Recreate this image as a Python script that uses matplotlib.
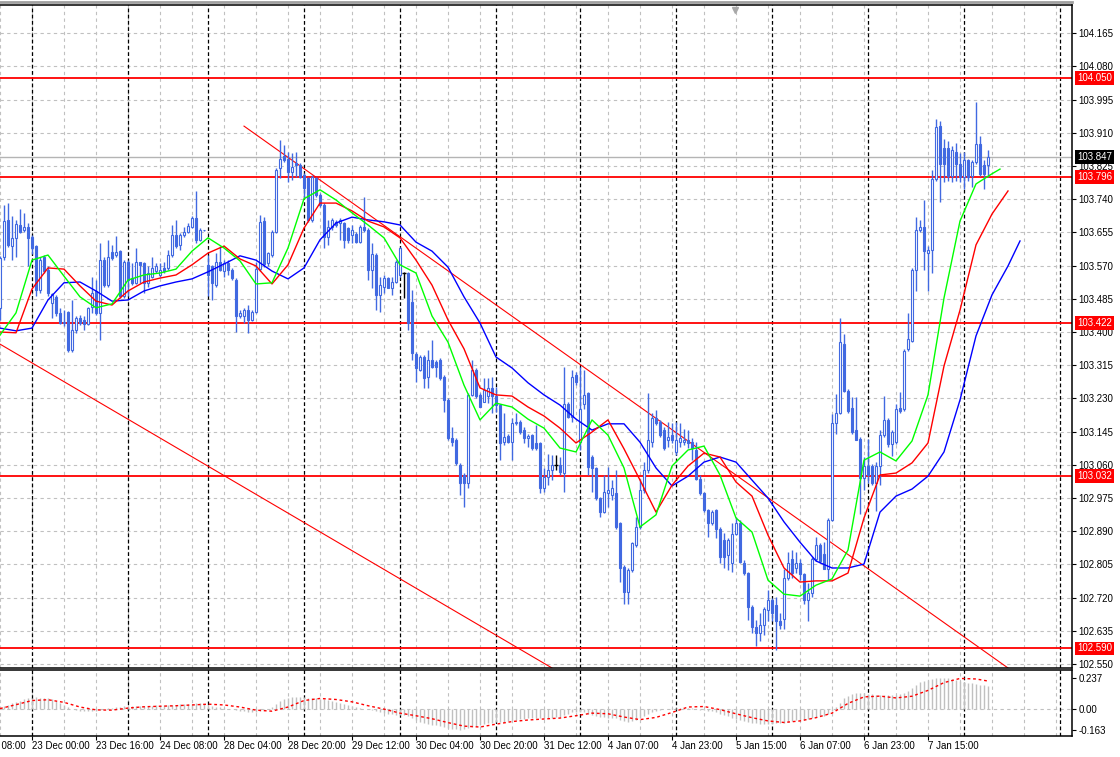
import numpy as np
import matplotlib
matplotlib.use("Agg")
import matplotlib.pyplot as plt
from matplotlib.lines import Line2D

plt.rcParams['font.family'] = ['Liberation Sans', 'DejaVu Sans']

# hourly candles, bar 0 = 22 Dec 16:00, bar 8 = 23 Dec 00:00
opens = [
    103.461, 103.593, 103.687, 103.621, 103.640, 103.674, 103.660, 103.668,
    103.644, 103.619, 103.508, 103.592, 103.559, 103.474, 103.490, 103.448,
    103.423, 103.452, 103.354, 103.405, 103.435, 103.431, 103.421, 103.465,
    103.504, 103.448, 103.585, 103.521, 103.606, 103.598, 103.608, 103.491,
    103.580, 103.538, 103.525, 103.578, 103.576, 103.525, 103.542, 103.555,
    103.546, 103.563, 103.563, 103.598, 103.649, 103.623, 103.649, 103.657,
    103.670, 103.691, 103.636, 103.661, 103.572, 103.568, 103.521, 103.580,
    103.555, 103.576, 103.559, 103.534, 103.440, 103.440, 103.457, 103.431,
    103.452, 103.560, 103.685, 103.576, 103.597, 103.657, 103.819, 103.850,
    103.844, 103.810, 103.832, 103.827, 103.802, 103.793, 103.687, 103.793,
    103.751, 103.725, 103.644, 103.670, 103.682, 103.678, 103.678, 103.665,
    103.648, 103.651, 103.631, 103.670, 103.661, 103.559, 103.597, 103.495,
    103.516, 103.537, 103.512, 103.529, 103.546, 103.550, 103.550, 103.478,
    103.344, 103.303, 103.335, 103.286, 103.328, 103.324, 103.328, 103.286,
    103.226, 103.128, 103.124, 103.060, 103.034, 103.013, 103.239, 103.303,
    103.239, 103.222, 103.235, 103.256, 103.235, 103.213, 103.119, 103.134,
    103.119, 103.166, 103.170, 103.149, 103.128, 103.136, 103.115, 103.115,
    103.000, 103.029, 103.046, 103.059, 103.059, 103.038, 103.217, 103.183,
    103.290, 103.119, 103.217, 103.243, 103.081, 103.051, 102.974, 102.940,
    102.987, 102.983, 102.987, 102.910, 102.799, 102.735, 102.791, 102.855,
    102.902, 102.995, 103.046, 103.119, 103.179, 103.170, 103.149, 103.123,
    103.136, 103.093, 103.119, 103.119, 103.123, 103.119, 103.098, 103.025,
    102.987, 102.944, 102.910, 102.944, 102.897, 102.867, 102.829, 102.808,
    102.884, 102.910, 102.808, 102.782, 102.697, 102.646, 102.630, 102.650,
    102.688, 102.715, 102.700, 102.661, 102.665, 102.771, 102.819, 102.797,
    102.810, 102.780, 102.714, 102.731, 102.819, 102.854, 102.832, 102.793,
    102.920, 103.167, 103.193, 103.369, 103.250, 103.206, 103.149, 103.127,
    103.026, 103.057, 103.057, 103.013, 103.057, 103.136, 103.176, 103.114,
    103.118, 103.206, 103.202, 103.356, 103.378, 103.558, 103.660, 103.668,
    103.602, 103.611, 103.792, 103.928, 103.871, 103.871, 103.800, 103.862,
    103.831, 103.796, 103.840, 103.800, 103.836, 103.880, 103.827, 103.827,
]
highs = [
    103.595, 103.725, 103.730, 103.696, 103.687, 103.714, 103.704, 103.679,
    103.648, 103.623, 103.593, 103.598, 103.568, 103.499, 103.495, 103.461,
    103.457, 103.455, 103.482, 103.440, 103.444, 103.440, 103.465, 103.542,
    103.534, 103.627, 103.593, 103.636, 103.623, 103.645, 103.610, 103.585,
    103.585, 103.576, 103.615, 103.580, 103.580, 103.568, 103.593, 103.576,
    103.576, 103.580, 103.610, 103.674, 103.687, 103.653, 103.670, 103.679,
    103.696, 103.760, 103.666, 103.662, 103.598, 103.572, 103.602, 103.619,
    103.585, 103.585, 103.563, 103.538, 103.457, 103.461, 103.470, 103.457,
    103.578, 103.700, 103.695, 103.605, 103.661, 103.819, 103.891, 103.879,
    103.862, 103.857, 103.862, 103.832, 103.806, 103.797, 103.802, 103.797,
    103.755, 103.729, 103.687, 103.691, 103.687, 103.691, 103.682, 103.670,
    103.674, 103.657, 103.674, 103.746, 103.665, 103.627, 103.601, 103.542,
    103.546, 103.542, 103.542, 103.584, 103.618, 103.554, 103.554, 103.507,
    103.350, 103.341, 103.341, 103.354, 103.380, 103.328, 103.333, 103.290,
    103.230, 103.158, 103.128, 103.064, 103.038, 103.243, 103.328, 103.307,
    103.243, 103.282, 103.282, 103.286, 103.260, 103.217, 103.192, 103.140,
    103.179, 103.192, 103.174, 103.157, 103.140, 103.140, 103.162, 103.119,
    103.051, 103.089, 103.085, 103.085, 103.081, 103.311, 103.221, 103.302,
    103.298, 103.311, 103.302, 103.247, 103.085, 103.055, 102.978, 103.034,
    103.055, 103.021, 103.046, 102.914, 102.803, 102.795, 102.863, 102.927,
    103.025, 103.068, 103.243, 103.192, 103.200, 103.174, 103.157, 103.170,
    103.166, 103.170, 103.166, 103.153, 103.149, 103.128, 103.119, 103.034,
    102.991, 102.948, 102.944, 102.948, 102.902, 102.885, 102.872, 102.910,
    102.927, 102.919, 102.816, 102.786, 102.701, 102.663, 102.680, 102.695,
    102.740, 102.720, 102.722, 102.680, 102.793, 102.837, 102.841, 102.837,
    102.819, 102.784, 102.758, 102.823, 102.876, 102.859, 102.863, 102.925,
    103.189, 103.242, 103.435, 103.396, 103.255, 103.233, 103.233, 103.132,
    103.079, 103.127, 103.061, 103.066, 103.149, 103.237, 103.180, 103.149,
    103.215, 103.246, 103.356, 103.448, 103.563, 103.695, 103.686, 103.739,
    103.620, 103.814, 103.946, 103.941, 103.893, 103.888, 103.875, 103.884,
    103.858, 103.862, 103.844, 103.840, 103.990, 103.902, 103.840, 103.866,
]
lows = [
    103.431, 103.585, 103.617, 103.585, 103.593, 103.653, 103.657, 103.568,
    103.600, 103.491, 103.499, 103.551, 103.491, 103.435, 103.440, 103.421,
    103.416, 103.350, 103.348, 103.397, 103.418, 103.406, 103.418, 103.448,
    103.444, 103.380, 103.516, 103.516, 103.585, 103.593, 103.487, 103.487,
    103.491, 103.521, 103.523, 103.525, 103.499, 103.516, 103.538, 103.551,
    103.542, 103.551, 103.559, 103.593, 103.615, 103.610, 103.644, 103.653,
    103.666, 103.627, 103.632, 103.658, 103.491, 103.482, 103.516, 103.555,
    103.542, 103.546, 103.534, 103.401, 103.435, 103.423, 103.397, 103.427,
    103.448, 103.555, 103.567, 103.570, 103.593, 103.653, 103.793, 103.836,
    103.785, 103.789, 103.798, 103.793, 103.742, 103.682, 103.682, 103.746,
    103.721, 103.614, 103.623, 103.661, 103.670, 103.636, 103.614, 103.627,
    103.627, 103.627, 103.627, 103.657, 103.533, 103.512, 103.456, 103.452,
    103.499, 103.512, 103.495, 103.525, 103.542, 103.486, 103.405, 103.328,
    103.273, 103.299, 103.256, 103.256, 103.307, 103.286, 103.277, 103.196,
    103.124, 103.107, 103.060, 102.983, 102.953, 103.000, 103.235, 103.230,
    103.209, 103.222, 103.218, 103.192, 103.196, 103.072, 103.111, 103.115,
    103.072, 103.162, 103.140, 103.115, 103.106, 103.098, 103.098, 102.987,
    102.991, 103.008, 103.021, 103.046, 103.034, 102.991, 103.179, 103.170,
    103.264, 103.098, 103.204, 103.034, 102.991, 102.970, 102.927, 102.936,
    102.953, 102.970, 102.897, 102.761, 102.705, 102.705, 102.786, 102.850,
    102.897, 102.987, 103.038, 103.106, 103.162, 103.132, 103.098, 103.106,
    103.115, 103.085, 103.106, 103.111, 103.102, 103.072, 103.021, 102.983,
    102.940, 102.876, 102.906, 102.872, 102.808, 102.795, 102.791, 102.786,
    102.880, 102.808, 102.778, 102.663, 102.630, 102.596, 102.610, 102.625,
    102.660, 102.660, 102.585, 102.640, 102.640, 102.766, 102.771, 102.784,
    102.766, 102.705, 102.661, 102.722, 102.815, 102.810, 102.793, 102.766,
    102.916, 103.140, 103.189, 103.246, 103.193, 103.140, 103.123, 102.934,
    102.996, 103.013, 103.009, 102.943, 103.009, 103.132, 103.105, 103.083,
    103.114, 103.193, 103.198, 103.352, 103.374, 103.506, 103.655, 103.558,
    103.506, 103.550, 103.787, 103.734, 103.783, 103.787, 103.783, 103.787,
    103.783, 103.765, 103.787, 103.770, 103.831, 103.800, 103.765, 103.796,
]
closes = [
    103.589, 103.683, 103.623, 103.640, 103.677, 103.657, 103.668, 103.640,
    103.616, 103.508, 103.585, 103.555, 103.499, 103.498, 103.448, 103.423,
    103.425, 103.354, 103.405, 103.435, 103.423, 103.421, 103.461, 103.499,
    103.448, 103.585, 103.521, 103.593, 103.589, 103.606, 103.491, 103.580,
    103.534, 103.525, 103.578, 103.572, 103.525, 103.551, 103.563, 103.570,
    103.559, 103.555, 103.598, 103.649, 103.619, 103.649, 103.657, 103.672,
    103.691, 103.636, 103.661, 103.660, 103.546, 103.525, 103.580, 103.559,
    103.576, 103.559, 103.538, 103.440, 103.448, 103.457, 103.431, 103.452,
    103.560, 103.682, 103.575, 103.601, 103.657, 103.815, 103.844, 103.840,
    103.810, 103.823, 103.827, 103.798, 103.768, 103.687, 103.798, 103.751,
    103.725, 103.644, 103.670, 103.687, 103.674, 103.687, 103.636, 103.636,
    103.661, 103.631, 103.670, 103.661, 103.559, 103.600, 103.495, 103.520,
    103.537, 103.512, 103.529, 103.580, 103.614, 103.550, 103.422, 103.345,
    103.307, 103.337, 103.282, 103.328, 103.311, 103.310, 103.282, 103.226,
    103.128, 103.119, 103.064, 103.013, 103.013, 103.239, 103.303, 103.235,
    103.209, 103.252, 103.256, 103.235, 103.213, 103.115, 103.132, 103.119,
    103.166, 103.170, 103.145, 103.128, 103.134, 103.102, 103.102, 103.000,
    103.029, 103.046, 103.059, 103.059, 103.042, 103.217, 103.183, 103.285,
    103.273, 103.204, 103.238, 103.055, 103.051, 102.974, 102.940, 102.991,
    102.995, 103.000, 102.902, 102.795, 102.735, 102.791, 102.859, 102.902,
    102.995, 103.046, 103.123, 103.179, 103.166, 103.136, 103.102, 103.132,
    103.123, 103.123, 103.128, 103.123, 103.115, 103.102, 103.025, 102.987,
    102.944, 102.910, 102.940, 102.897, 102.825, 102.825, 102.867, 102.884,
    102.910, 102.812, 102.782, 102.697, 102.646, 102.630, 102.650, 102.690,
    102.715, 102.680, 102.661, 102.650, 102.771, 102.810, 102.784, 102.810,
    102.780, 102.714, 102.731, 102.819, 102.854, 102.815, 102.793, 102.920,
    103.167, 103.193, 103.374, 103.250, 103.198, 103.145, 103.123, 103.026,
    103.057, 103.035, 103.013, 103.057, 103.136, 103.176, 103.114, 103.145,
    103.202, 103.199, 103.352, 103.382, 103.558, 103.660, 103.668, 103.607,
    103.611, 103.792, 103.924, 103.831, 103.831, 103.800, 103.866, 103.831,
    103.796, 103.840, 103.796, 103.836, 103.880, 103.805, 103.805, 103.847,
]

# alligator lines, read every 4 bars (last value at the line's end bar)
lips_vals = [
    103.392, 103.449, 103.584, 103.597, 103.543, 103.490, 103.462, 103.472,
    103.533, 103.546, 103.551, 103.561, 103.607, 103.641, 103.615, 103.582,
    103.523, 103.526, 103.615, 103.741, 103.764, 103.738, 103.705, 103.674,
    103.641, 103.572, 103.551, 103.441, 103.374, 103.264, 103.175, 103.218,
    103.208, 103.177, 103.154, 103.103, 103.093, 103.175, 103.136, 103.052,
    102.901, 102.932, 103.057, 103.098, 103.108, 103.034, 102.924, 102.888,
    102.765, 102.729, 102.724, 102.752, 102.768, 102.842, 103.072, 103.093,
    103.070, 103.121, 103.239, 103.487, 103.684, 103.779, 103.805, 103.817,
]
teeth_vals = [
    103.400, 103.398, 103.510, 103.564, 103.561, 103.518, 103.479, 103.469,
    103.505, 103.528, 103.538, 103.546, 103.572, 103.602, 103.620, 103.587,
    103.569, 103.523, 103.572, 103.666, 103.730, 103.730, 103.710, 103.684,
    103.669, 103.641, 103.584, 103.520, 103.431, 103.357, 103.257, 103.239,
    103.236, 103.208, 103.185, 103.154, 103.116, 103.144, 103.175, 103.101,
    103.021, 102.939, 103.008, 103.057, 103.090, 103.080, 103.016, 102.980,
    102.880, 102.796, 102.760, 102.763, 102.763, 102.783, 102.924, 103.034,
    103.039, 103.065, 103.116, 103.313, 103.456, 103.623, 103.702, 103.761,
]
jaw_vals = [
    103.410, 103.403, 103.410, 103.482, 103.526, 103.528, 103.505, 103.479,
    103.482, 103.505, 103.518, 103.528, 103.536, 103.554, 103.574, 103.595,
    103.584, 103.556, 103.536, 103.564, 103.636, 103.679, 103.694, 103.687,
    103.682, 103.674, 103.630, 103.607, 103.566, 103.490, 103.423, 103.336,
    103.308, 103.270, 103.239, 103.213, 103.177, 103.149, 103.165, 103.165,
    103.118, 103.052, 103.006, 103.031, 103.067, 103.080, 103.067, 103.021,
    102.975, 102.914, 102.862, 102.814, 102.796, 102.796, 102.806, 102.939,
    102.980, 102.998, 103.031, 103.093, 103.226, 103.390, 103.495, 103.569,
    103.633,
]
lips_end, teeth_end, jaw_end = 250, 252, 255

# MACD main (histogram) per bar and signal every 4 bars
macd_main = [
    0.010, 0.020, 0.030, 0.040, 0.050, 0.060, 0.070, 0.078,
    0.085, 0.088, 0.085, 0.083, 0.078, 0.070, 0.058, 0.045,
    0.030, 0.012, -0.002, -0.010, -0.015, -0.018, -0.018, -0.016,
    -0.015, -0.010, -0.003, 0.003, 0.008, 0.013, 0.015, 0.018,
    0.020, 0.020, 0.021, 0.022, 0.022, 0.022, 0.023, 0.024,
    0.024, 0.025, 0.026, 0.028, 0.030, 0.032, 0.034, 0.036,
    0.038, 0.040, 0.040, 0.038, 0.030, 0.022, 0.016, 0.010,
    0.005, 0.000, -0.005, -0.012, -0.018, -0.022, -0.025, -0.026,
    -0.024, -0.018, -0.010, 0.000, 0.015, 0.035, 0.055, 0.070,
    0.080, 0.086, 0.090, 0.090, 0.088, 0.085, 0.082, 0.080,
    0.076, 0.072, 0.066, 0.060, 0.052, 0.045, 0.038, 0.030,
    0.022, 0.014, 0.006, 0.000, -0.006, -0.012, -0.020, -0.028,
    -0.034, -0.040, -0.045, -0.048, -0.050, -0.052, -0.060, -0.075,
    -0.090, -0.100, -0.110, -0.118, -0.125, -0.130, -0.135, -0.140,
    -0.148, -0.155, -0.160, -0.163, -0.160, -0.150, -0.140, -0.132,
    -0.125, -0.118, -0.112, -0.108, -0.105, -0.104, -0.100, -0.096,
    -0.092, -0.088, -0.083, -0.078, -0.074, -0.072, -0.070, -0.072,
    -0.075, -0.074, -0.070, -0.066, -0.062, -0.050, -0.040, -0.030,
    -0.025, -0.025, -0.028, -0.040, -0.050, -0.058, -0.065, -0.068,
    -0.070, -0.072, -0.075, -0.085, -0.095, -0.100, -0.095, -0.085,
    -0.070, -0.055, -0.040, -0.025, -0.015, -0.008, -0.004, 0.000,
    0.003, 0.005, 0.006, 0.006, 0.005, 0.002, -0.004, -0.008,
    -0.010, -0.016, -0.022, -0.030, -0.040, -0.050, -0.060, -0.070,
    -0.080, -0.088, -0.095, -0.102, -0.108, -0.112, -0.115, -0.117,
    -0.118, -0.116, -0.114, -0.112, -0.108, -0.102, -0.096, -0.090,
    -0.086, -0.084, -0.080, -0.074, -0.066, -0.060, -0.055, -0.045,
    -0.020, 0.010, 0.045, 0.080, 0.100, 0.112, 0.118, 0.120,
    0.118, 0.114, 0.112, 0.108, 0.104, 0.102, 0.104, 0.106,
    0.108, 0.110, 0.120, 0.135, 0.160, 0.185, 0.205, 0.215,
    0.220, 0.228, 0.235, 0.237, 0.235, 0.232, 0.228, 0.222,
    0.215, 0.208, 0.200, 0.195, 0.190, 0.185, 0.180, 0.172,
]
macd_signal = [
    0.000, 0.030, 0.062, 0.068, 0.048, 0.012, -0.010, -0.012,
    0.004, 0.014, 0.018, 0.022, 0.028, 0.034, 0.028, 0.012,
    -0.012, -0.020, 0.012, 0.062, 0.078, 0.070, 0.052, 0.022,
    -0.004, -0.035, -0.055, -0.078, -0.108, -0.135, -0.142, -0.120,
    -0.100, -0.088, -0.080, -0.073, -0.055, -0.035, -0.040, -0.065,
    -0.085, -0.068, -0.030, 0.012, 0.016, -0.008, -0.040, -0.070,
    -0.095, -0.107, -0.095, -0.070, -0.035, 0.040, 0.090, 0.096,
    0.082, 0.095, 0.140, 0.200, 0.232, 0.228, 0.212,
]

levels = [104.050, 103.796, 103.422, 103.032, 102.590]
bid = 103.847
price_ticks = [104.165, 104.080, 103.995, 103.910, 103.825, 103.740, 103.655,
               103.570, 103.485, 103.400, 103.315, 103.230, 103.145, 103.060,
               102.975, 102.890, 102.805, 102.720, 102.635, 102.550]
macd_ticks = [0.237, 0.0, -0.163]
macd_tick_labels = ['0.237', '0.00', '-0.163']

# trend lines: (bar, price) anchors
trend_upper = [(61, 103.927), (252, 102.540)]
trend_lower = [(0, 103.369), (138, 102.540)]

day_starts = [8, 32, 52, 76, 100, 124, 145, 169, 193, 217, 241, 265]
time_label_bars = [-8, 8, 24, 40, 56, 72, 88, 104, 120, 136, 152, 168, 184, 200, 216, 232]
time_labels = ['22 Dec 08:00', '23 Dec 00:00', '23 Dec 16:00', '24 Dec 08:00',
               '28 Dec 04:00', '28 Dec 20:00', '29 Dec 12:00', '30 Dec 04:00',
               '30 Dec 20:00', '31 Dec 12:00', '4 Jan 07:00', '4 Jan 23:00',
               '5 Jan 15:00', '6 Jan 07:00', '6 Jan 23:00', '7 Jan 15:00']

CANDLE = '#4169e1'
GRID = '#c0c0c0'
W, H = 1120, 757
N_VIEW = 268
FS = 7


def draw_grid(ax, yvals):
    for b in range(0, N_VIEW, 8):
        ax.axvline(b, color=GRID, lw=0.8, dashes=(3, 3), zorder=0)
    for y in yvals:
        ax.axhline(y, color=GRID, lw=0.8, dashes=(3, 3), zorder=0)
    for b in day_starts:
        ax.axvline(b, color='black', lw=0.9, dashes=(3, 2), zorder=1)


def draw_candles(ax):
    o, h, l, c = (np.array(a) for a in (opens, highs, lows, closes))
    idx = np.arange(len(c))
    up = c > o
    down = c < o
    flat = c == o
    wick_col = np.where(flat, 'black', CANDLE)
    ax.vlines(idx, l, h, colors=wick_col, lw=1, zorder=3)
    ax.bar(idx[up], (c - o)[up], bottom=o[up], width=0.72, facecolor='white',
           edgecolor=CANDLE, lw=0.8, zorder=4)
    ax.bar(idx[down], (o - c)[down], bottom=c[down], width=0.72, facecolor=CANDLE,
           edgecolor=CANDLE, lw=0.8, zorder=4)
    ax.hlines(o[flat], idx[flat] - 0.4, idx[flat] + 0.4, colors='black', lw=1, zorder=4)


def sample_bars(n, end):
    x = np.arange(0, 4 * (n - 1), 4)
    return np.append(x, end)


def price_box(ax, y, text, color):
    ax.text(1.005, y, text, transform=ax.get_yaxis_transform(), ha='left', va='center',
            color='white', fontsize=FS, zorder=10, clip_on=False,
            bbox=dict(boxstyle='square,pad=0.2', fc=color, ec='none'))


def main():
    fig = plt.figure(figsize=(W / 100, H / 100), dpi=100)
    fig.patch.set_facecolor('white')

    ax = fig.add_axes([0, 1 - 668 / H, 1072 / W, 663 / H])
    ax.set_xlim(0, N_VIEW)
    ax.set_ylim(102.540, 104.237)
    draw_grid(ax, price_ticks)

    for lv in levels:
        ax.axhline(lv, color='red', lw=1.3, zorder=2)
    ax.axhline(bid, color='#b4b4b4', lw=1, zorder=2)
    for (b0, p0), (b1, p1) in (trend_upper, trend_lower):
        ax.plot([b0, b1], [p0, p1], color='red', lw=0.8, zorder=2)

    draw_candles(ax)
    ax.plot(sample_bars(len(jaw_vals), jaw_end), jaw_vals, color='#0000ff', lw=1, zorder=5)
    ax.plot(sample_bars(len(teeth_vals), teeth_end), teeth_vals, color='#ff0000', lw=1, zorder=5)
    ax.plot(sample_bars(len(lips_vals), lips_end), lips_vals, color='#00ff00', lw=1, zorder=5)

    ax.yaxis.tick_right()
    ax.set_yticks(price_ticks)
    ax.set_yticklabels(['%.3f' % p for p in price_ticks])
    ax.tick_params(axis='y', direction='out', length=3, width=0.8, pad=1.5, labelsize=FS)
    ax.set_xticks([])
    ax.spines['left'].set_visible(False)
    for s in ('top', 'right', 'bottom'):
        ax.spines[s].set_linewidth(1.1)

    for lv in levels:
        price_box(ax, lv, '%.3f' % lv, 'red')
    price_box(ax, bid, '%.3f' % bid, 'black')
    ax.plot([183.75], [0.993], marker='v', color='#a8a8a8', ms=5,
            transform=ax.get_xaxis_transform(), clip_on=False, zorder=10)

    # MACD window
    ax2 = fig.add_axes([0, 1 - 736 / H, 1072 / W, 66 / H])
    ax2.set_xlim(0, N_VIEW)
    ax2.set_ylim(-0.211, 0.297)
    draw_grid(ax2, [0.0])
    ax2.vlines(np.arange(len(macd_main)), 0, macd_main, colors=GRID, lw=1, zorder=3)
    ax2.plot(sample_bars(len(macd_signal), 247), macd_signal, color='red', lw=1,
             linestyle=(0, (2, 2)), zorder=4)
    ax2.yaxis.tick_right()
    ax2.set_yticks(macd_ticks)
    ax2.set_yticklabels(macd_tick_labels)
    ax2.tick_params(axis='y', direction='out', length=3, width=0.8, pad=1.5, labelsize=FS)
    ax2.set_xticks([b for b in time_label_bars if b >= 0])
    ax2.set_xticklabels([])
    ax2.tick_params(axis='x', direction='out', length=3, width=0.8)
    ax2.spines['left'].set_visible(False)
    for s in ('top', 'right', 'bottom'):
        ax2.spines[s].set_linewidth(1.1)
    for b, lab in zip(time_label_bars, time_labels):
        ax2.text(b, -0.07, lab, transform=ax2.get_xaxis_transform(), ha='left', va='top',
                 fontsize=FS, clip_on=False)

    fig.add_artist(Line2D([0, 1072 / W], [1 - 2 / H] * 2, color='#a0a0a0', lw=2))
    fig.savefig('out.png', dpi=100)


if __name__ == "__main__":
    main()
